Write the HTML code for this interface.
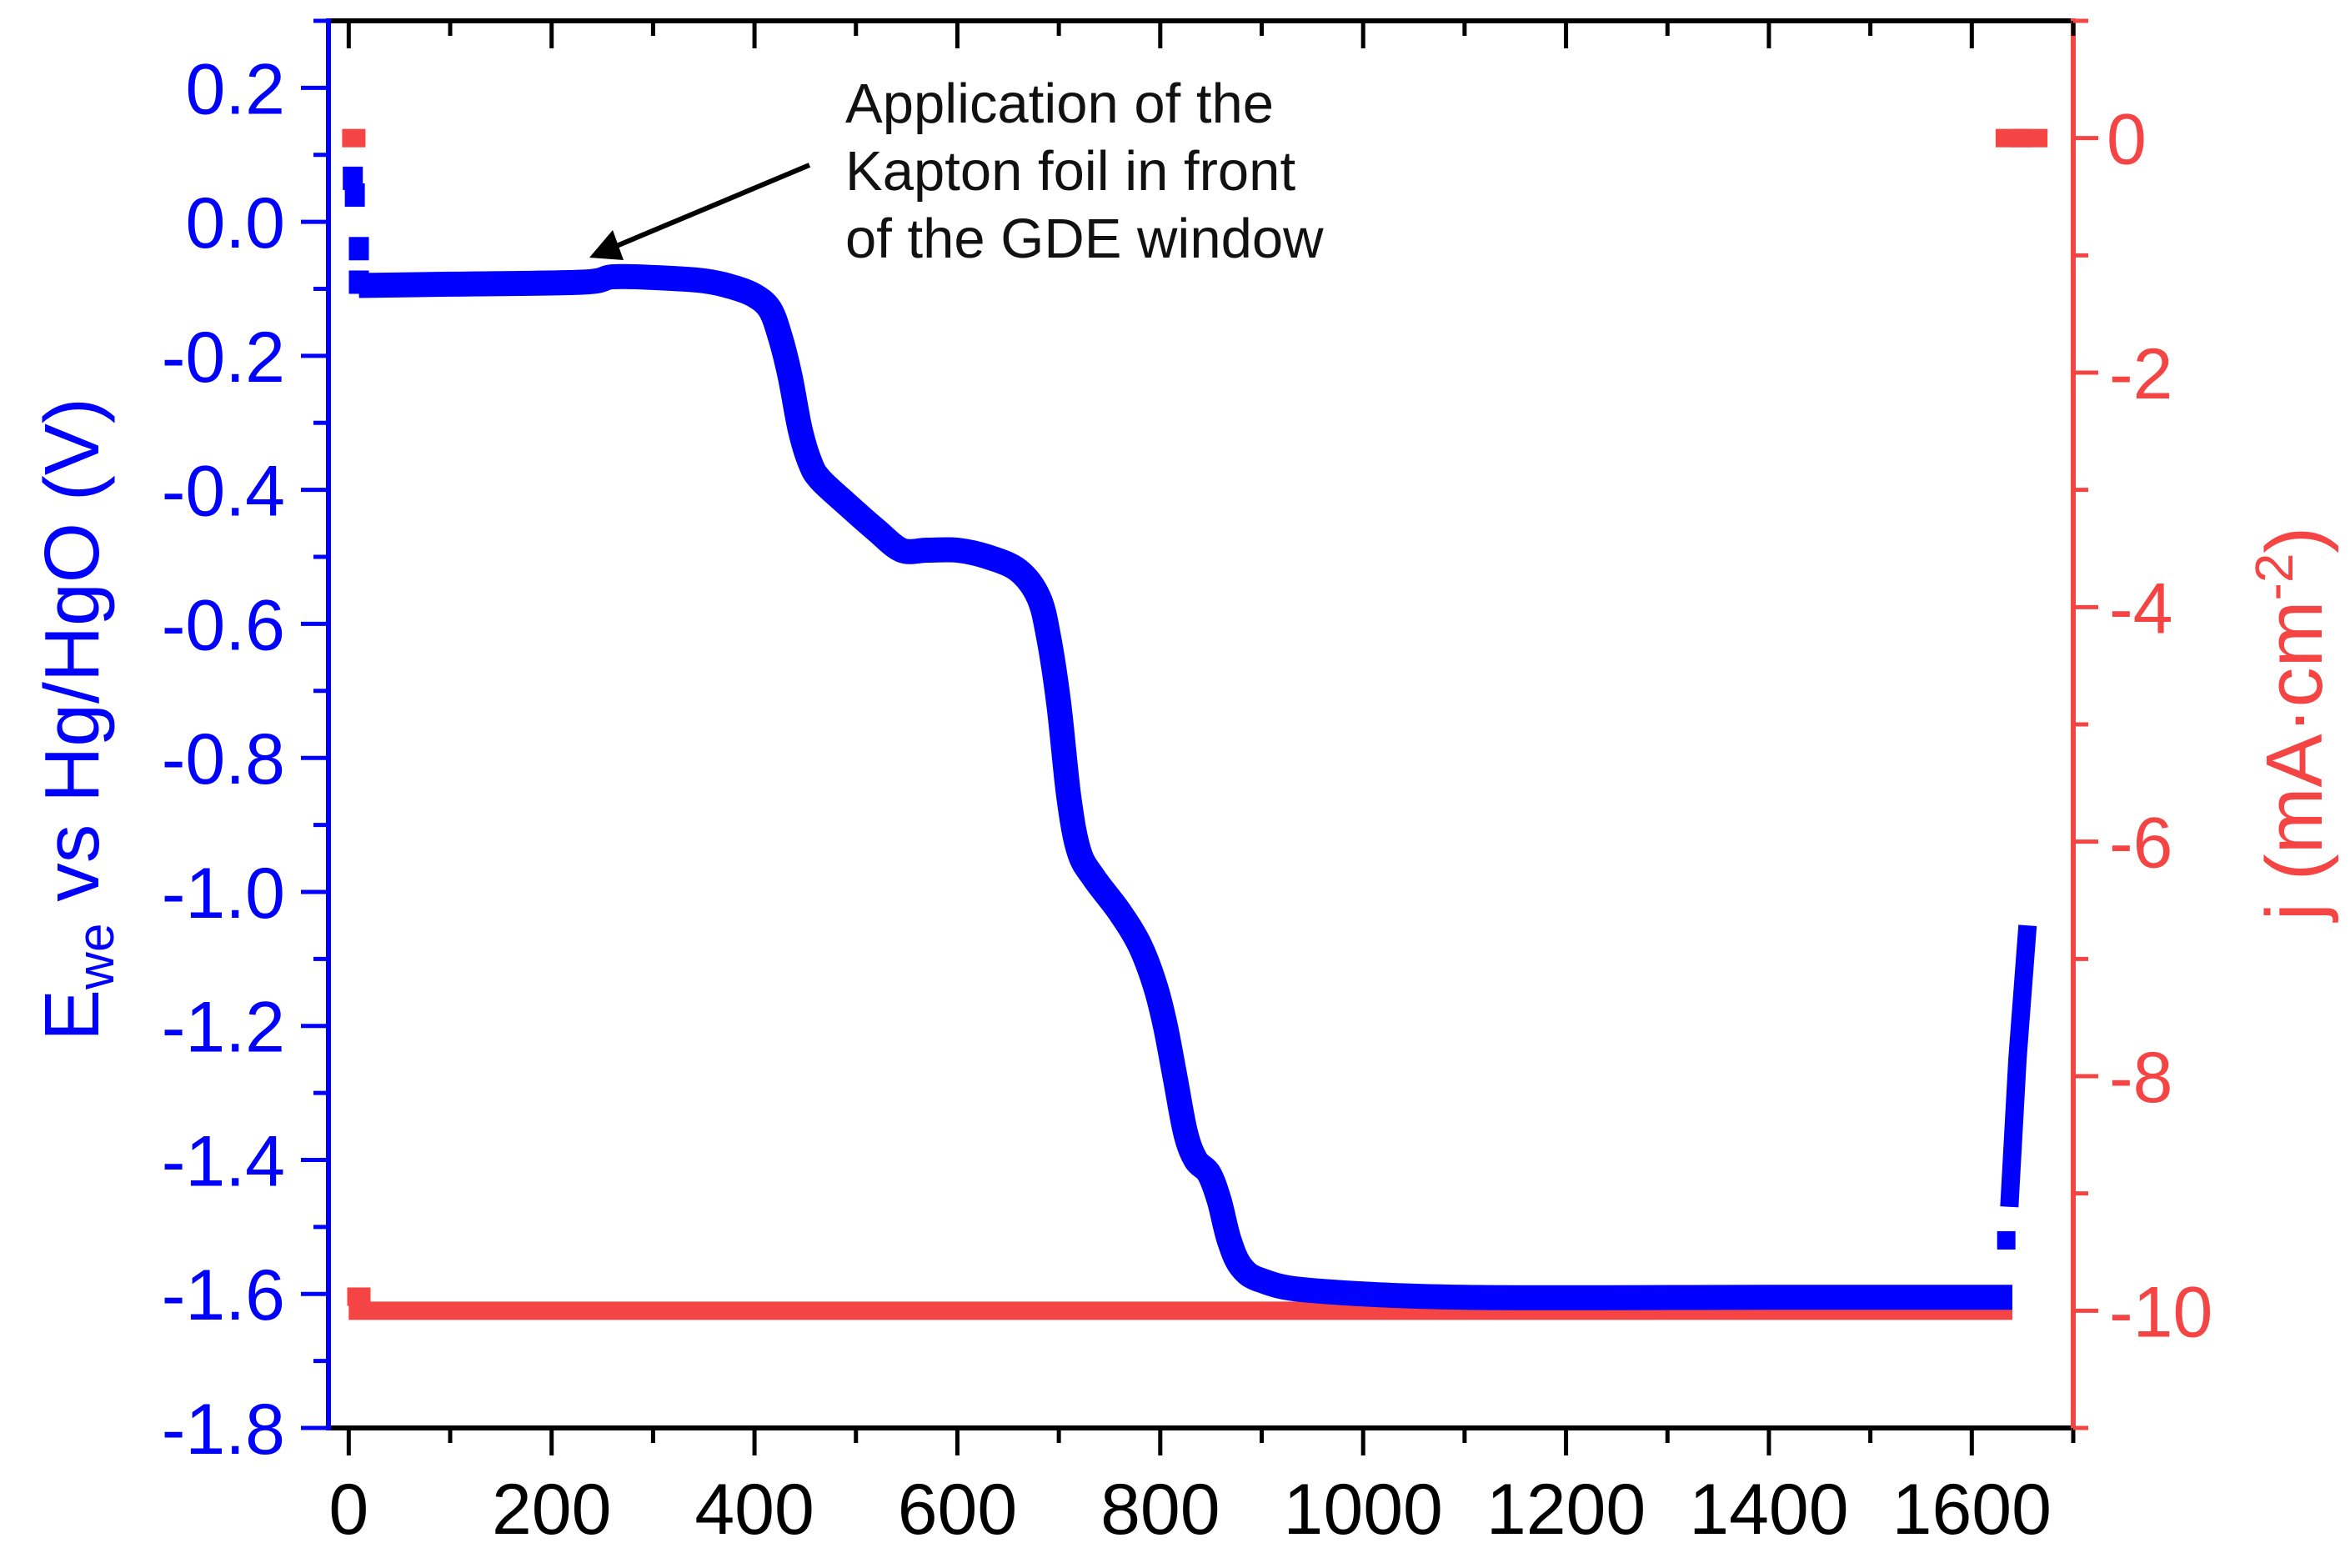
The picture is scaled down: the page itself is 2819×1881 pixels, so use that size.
<!DOCTYPE html>
<html><head><meta charset="utf-8"><style>
html,body{margin:0;padding:0;background:#fff;}
svg{display:block;font-family:"Liberation Sans",Arial,sans-serif;}
</style></head><body>
<svg id="chart" width="2819" height="1881" viewBox="0 0 2819 1881" xmlns="http://www.w3.org/2000/svg">
<g id="plot"></g>
<g id="axes"></g>
<text transform="translate(118,863) rotate(-90)" text-anchor="middle" font-size="93" fill="#0000ff">E<tspan font-size="62" dy="18">we</tspan><tspan dy="-18"> vs Hg/HgO (V)</tspan></text>
<text transform="translate(2785,868) rotate(-90)" text-anchor="middle" font-size="96" fill="#f44444">j (mA·cm<tspan font-size="64" dy="-35">-2</tspan><tspan dy="35">)</tspan></text>
<g font-size="67" fill="#111">
<text x="1014" y="147">Application of the</text>
<text x="1014" y="228">Kapton foil in front</text>
<text x="1014" y="309">of the GDE window</text>
</g>
<g>
<line x1="971" y1="198" x2="735" y2="297" stroke="#000" stroke-width="6"/>
<polygon points="707,309 735,276 748,312" fill="#000"/>
</g>
</svg>
<script>
const xTicks=[0,200,400,600,800,1000,1200,1400,1600];
const yLeftTicks=[0.2,0.0,-0.2,-0.4,-0.6,-0.8,-1.0,-1.2,-1.4,-1.6,-1.8];
const yLeftLabels=["0.2","0.0","-0.2","-0.4","-0.6","-0.8","-1.0","-1.2","-1.4","-1.6","-1.8"];
const yRightTicks=[0,-2,-4,-6,-8,-10];
const yRightLabels=["0","-2","-4","-6","-8","-10"];
const ewe_t=[10,100,230,260,300,350,380,400,415,425,435,445,455,465,490,520,545,570,600,630,660,680,690,700,710,720,735,760,780,795,805,815,825,835,848,858,868,880,900,950,1100,1400,1640];
const ewe_v=[-0.095,-0.093,-0.09,-0.082,-0.083,-0.088,-0.098,-0.11,-0.13,-0.17,-0.23,-0.31,-0.36,-0.385,-0.42,-0.46,-0.49,-0.49,-0.49,-0.50,-0.52,-0.56,-0.62,-0.72,-0.86,-0.94,-0.98,-1.03,-1.08,-1.14,-1.20,-1.28,-1.36,-1.40,-1.42,-1.46,-1.52,-1.56,-1.58,-1.595,-1.605,-1.605,-1.605];
const eweStart_t=[4,6,10,10];
const eweStart_v=[0.065,0.04,-0.04,-0.09];
const eweEnd_t=[1637,1645,1655];
const eweEnd_v=[-1.47,-1.25,-1.05];
const eweEndSq_t=[1634];
const eweEndSq_v=[-1.52];
const j_t=[0,1640];
const j_v=[-10,-10];
const jSq_t=[5,10,1635,1650];
const jSq_v=[0,-9.88,0,0];

const X0=394,X1=2487,Y0=25,Y1=1713;
const xmin=-20,xmax=1700,ylmin=-1.8,ylmax=0.3,yrmin=-11,yrmax=1;
const sx=t=>X0+(t-xmin)/(xmax-xmin)*(X1-X0);
const syL=v=>Y1-(v-ylmin)/(ylmax-ylmin)*(Y1-Y0);
const syR=v=>Y1-(v-yrmin)/(yrmax-yrmin)*(Y1-Y0);
const NS="http://www.w3.org/2000/svg";
function mk(tag,attrs,parent){const e=document.createElementNS(NS,tag);for(const k in attrs)e.setAttribute(k,attrs[k]);parent.appendChild(e);return e;}
function smooth(pts){let d='M'+pts[0][0]+','+pts[0][1];
 for(let i=0;i<pts.length-1;i++){const p0=pts[Math.max(0,i-1)],p1=pts[i],p2=pts[i+1],p3=pts[Math.min(pts.length-1,i+2)];
  const c1=[p1[0]+(p2[0]-p0[0])/6,p1[1]+(p2[1]-p0[1])/6],c2=[p2[0]-(p3[0]-p1[0])/6,p2[1]-(p3[1]-p1[1])/6];
  d+=' C'+c1[0]+','+c1[1]+' '+c2[0]+','+c2[1]+' '+p2[0]+','+p2[1];}
 return d;}
const plot=document.getElementById('plot'),axes=document.getElementById('axes');
const BLUE="#0000ff",RED="#f44444";

let l=mk('line',{x1:sx(j_t[0]),y1:syR(j_v[0]),x2:sx(j_t[1]),y2:syR(j_v[1]),stroke:RED,'stroke-width':22},plot);


for(let i=0;i<jSq_t.length;i++){
 const r=mk('rect',{x:sx(jSq_t[i])-14,y:syR(jSq_v[i])-11,width:(i>=2?44:28),height:22,fill:RED},plot);
 
 
}
let p=mk('path',{d:smooth(ewe_t.map((t,i)=>[sx(t),syL(ewe_v[i])])),fill:'none',stroke:BLUE,'stroke-width':30,'stroke-linejoin':'round'},plot);


let p2=mk('polyline',{points:eweEnd_t.map((t,i)=>sx(t)+','+syL(eweEnd_v[i])).join(' '),fill:'none',stroke:BLUE,'stroke-width':22},plot);


for(let i=0;i<eweStart_t.length;i++){
 const r=mk('rect',{x:sx(eweStart_t[i])-12,y:syL(eweStart_v[i])-14,width:24,height:28,fill:BLUE},plot);
 
 
}
for(let i=0;i<eweEndSq_t.length;i++){
 const r=mk('rect',{x:sx(eweEndSq_t[i])-11,y:syL(eweEndSq_v[i])-11,width:22,height:22,fill:BLUE},plot);
 
 
}

let a;
a=mk('line',{x1:X0,y1:Y1,x2:X1,y2:Y1,stroke:'#000','stroke-width':6},axes);
a=mk('line',{x1:X0,y1:Y0,x2:X1,y2:Y0,stroke:'#000','stroke-width':6},axes);
a=mk('line',{x1:X0,y1:Y0-3,x2:X0,y2:Y1+3,stroke:BLUE,'stroke-width':6},axes);
a=mk('line',{x1:X1,y1:Y0-3,x2:X1,y2:Y1+3,stroke:RED,'stroke-width':6},axes);

for(let t=0;t<=1700;t+=100){
 const major=t%200===0,x=sx(t);
 mk('line',{x1:x,y1:Y1,x2:x,y2:Y1+(major?33:18),stroke:'#000','stroke-width':5},axes);
 mk('line',{x1:x,y1:Y0,x2:x,y2:Y0+(major?33:18),stroke:'#000','stroke-width':5},axes);
}
xTicks.forEach(t=>{const e=mk('text',{x:sx(t),y:1840,'text-anchor':'middle','font-size':86,fill:'#000'},axes);e.textContent=t;
 });
for(let k=0;k<=21;k++){const v=-1.8+k*0.1,y=syL(v),major=k%2===0;
 mk('line',{x1:X0,y1:y,x2:X0-(major?33:18),y2:y,stroke:BLUE,'stroke-width':5},axes);}
yLeftTicks.forEach((v,i)=>{const e=mk('text',{x:342,y:syL(v)+31,'text-anchor':'end','font-size':86,fill:BLUE},axes);e.textContent=yLeftLabels[i];
 });
for(let k=-11;k<=1;k++){const y=syR(k),major=k%2===0;
 mk('line',{x1:X1,y1:y,x2:X1+(major?30:18),y2:y,stroke:RED,'stroke-width':5},axes);}
yRightTicks.forEach((v,i)=>{const e=mk('text',{x:(v===0?2527:2530),y:syR(v)+31,'text-anchor':'start','font-size':86,fill:RED},axes);e.textContent=yRightLabels[i];
 });
</script>
</body></html>
